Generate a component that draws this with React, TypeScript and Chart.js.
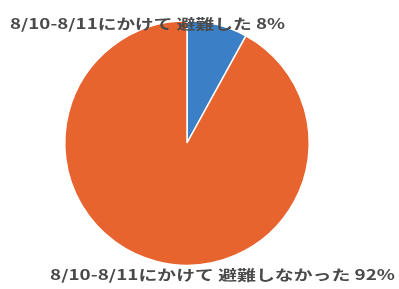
import React, { useEffect, useRef } from "react";
import { Chart, registerables } from "chart.js";

Chart.register(...registerables);

const categories = ["8/10-8/11にかけて 避難した", "8/10-8/11にかけて 避難しなかった"];
const values = [8, 92];
const percentLabels = ["8%", "92%"];
const colors = ["#3b80c6", "#e8642e"];

const labelPlugin = {
  id: "sliceLabels",
  afterDraw(chart: any) {
    const ctx = chart.ctx;
    ctx.save();
    ctx.font = "bold 14px 'Noto Sans CJK JP', sans-serif";
    ctx.fillStyle = "#4a4a4a";
    ctx.textBaseline = "middle";
    const spots = [
      { x: 10, y: 24, w: 275 },
      { x: 50, y: 275, w: 345 },
    ];
    categories.forEach((c, i) => {
      const text = c + " " + percentLabels[i];
      const m = ctx.measureText(text).width;
      const s = spots[i];
      ctx.save();
      ctx.translate(s.x, s.y);
      ctx.scale(s.w / m, 1);
      ctx.textAlign = "left";
      ctx.fillText(text, 0, 0);
      ctx.restore();
    });
    ctx.restore();
  },
};

export default function App() {
  const ref = useRef<HTMLCanvasElement>(null);
  useEffect(() => {
    document.body.style.margin = "0";
    const chart = new Chart(ref.current!, {
      type: "pie",
      data: {
        labels: categories,
        datasets: [
          {
            data: values,
            backgroundColor: colors,
            borderColor: "#ffffff",
            borderWidth: 1.5,
          },
        ],
      },
      options: {
        animation: false,
        responsive: false,
        layout: { padding: { left: 64, right: 89, top: 20, bottom: 23 } },
        plugins: {
          legend: { display: false },
          tooltip: { enabled: false },
        },
      },
      plugins: [labelPlugin],
    });
    return () => chart.destroy();
  }, []);
  return (
    <div style={{ position: "absolute", left: 0, top: 0, width: 399, height: 289, background: "#fff" }}>
      <canvas ref={ref} width={399} height={289} style={{ width: 399, height: 289 }} />
    </div>
  );
}
